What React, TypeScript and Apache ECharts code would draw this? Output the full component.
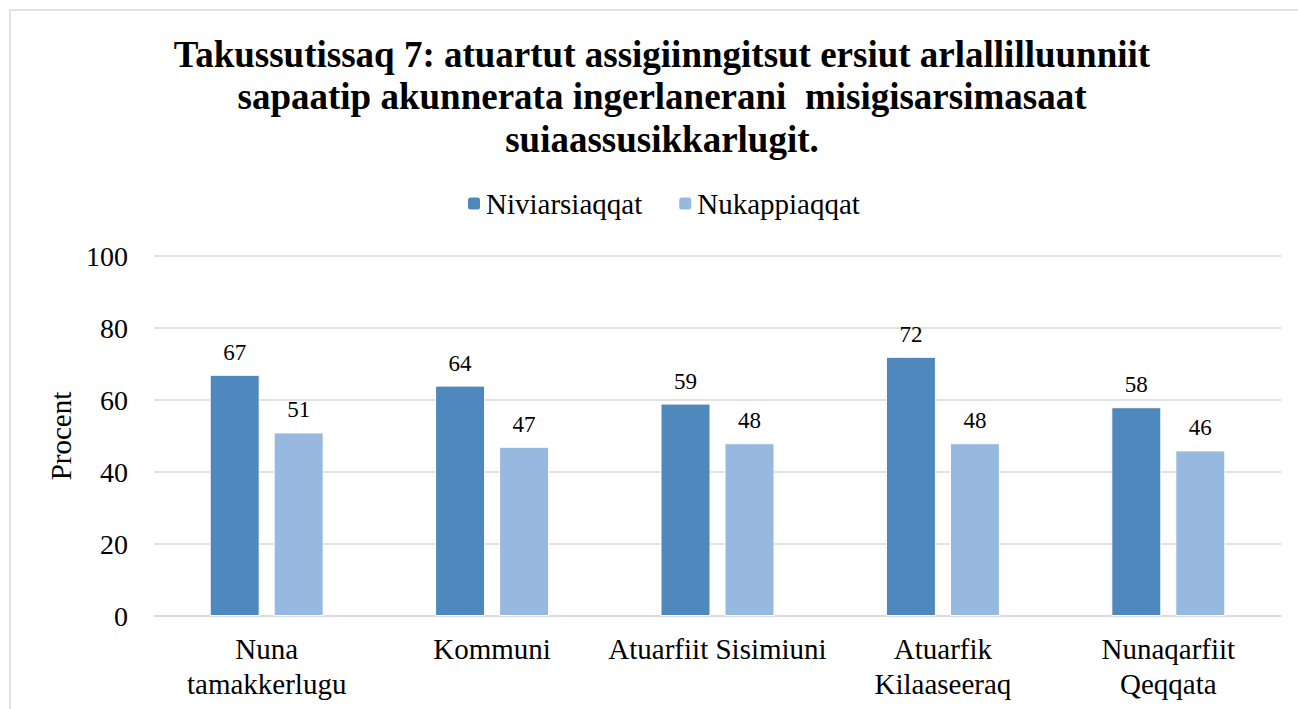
import React, { useEffect, useRef } from "react";
import * as echarts from "echarts";

const categories = [
  "Nuna\ntamakkerlugu",
  "Kommuni",
  "Atuarfiit Sisimiuni",
  "Atuarfik\nKilaaseeraq",
  "Nunaqarfiit\nQeqqata",
];
const seriesNames = ["Niviarsiaqqat", "Nukappiaqqat"];
const girls = [67, 64, 59, 72, 58];
const boys = [51, 47, 48, 48, 46];
const titleLines = [
  "Takussutissaq 7: atuartut assigiinngitsut ersiut arlallilluunniit",
  "sapaatip akunnerata ingerlanerani  misigisarsimasaat",
  "suiaassusikkarlugit.",
];
const yAxisName = "Procent";

const FONT = "'Liberation Serif', 'Times New Roman', serif";

export default function App() {
  const ref = useRef<HTMLDivElement>(null);
  useEffect(() => {
    if (!ref.current) return;
    const chart = echarts.init(ref.current, undefined, { renderer: "svg" });
    const label = {
      show: true,
      position: "top",
      distance: 11,
      fontSize: 23,
      fontFamily: FONT,
      color: "#000",
    };
    chart.setOption({
      animation: false,
      backgroundColor: "#fff",
      textStyle: { fontFamily: FONT },
      graphic: [
        {
          type: "rect",
          shape: { x: 10, y: 10, width: 1300, height: 710 },
          style: { fill: "none", stroke: "#d9d9d9", lineWidth: 1.5 },
          silent: true,
        },
        {
          type: "text",
          x: 662,
          y: 33,
          style: {
            text: titleLines.join("\n"),
            fontFamily: FONT,
            fontSize: 37,
            fontWeight: "bold",
            lineHeight: 42.5,
            fill: "#000",
            align: "center",
            verticalAlign: "top",
          },
        },
      ],
      legend: {
        data: seriesNames,
        left: 461,
        top: 184,
        itemWidth: 14,
        itemHeight: 14,
        itemGap: 35,
        textStyle: { fontSize: 29, fontFamily: FONT, color: "#000" },
      },
      grid: { left: 154, right: 17, top: 256, bottom: 93 },
      xAxis: {
        type: "category",
        data: categories,
        axisLine: { lineStyle: { color: "#d9d9d9", width: 1.5 } },
        axisTick: { show: false },
        axisLabel: {
          fontSize: 29,
          lineHeight: 35,
          margin: 15,
          color: "#000",
          fontFamily: FONT,
          interval: 0,
        },
      },
      yAxis: {
        type: "value",
        min: 0,
        max: 100,
        interval: 20,
        name: yAxisName,
        nameLocation: "middle",
        nameRotate: 90,
        nameGap: 78,
        nameTextStyle: { fontSize: 29, fontFamily: FONT, color: "#000" },
        axisLine: { show: false },
        axisTick: { show: false },
        axisLabel: { fontSize: 28, margin: 26, color: "#000", fontFamily: FONT },
        splitLine: { lineStyle: { color: "#d9d9d9", width: 1.5 } },
      },
      series: [
        {
          name: seriesNames[0],
          type: "bar",
          data: girls,
          barWidth: 50,
          barGap: "28%",
          itemStyle: { color: "#4F88BC", borderColor: "#ffffff", borderWidth: 1 },
          label,
        },
        {
          name: seriesNames[1],
          type: "bar",
          data: boys,
          barWidth: 50,
          itemStyle: { color: "#97B8DF", borderColor: "#ffffff", borderWidth: 1 },
          label,
        },
      ],
    });
    return () => chart.dispose();
  }, []);
  return (
    <div
      ref={ref}
      style={{ position: "fixed", left: 0, top: 0, width: 1298, height: 709 }}
    />
  );
}
